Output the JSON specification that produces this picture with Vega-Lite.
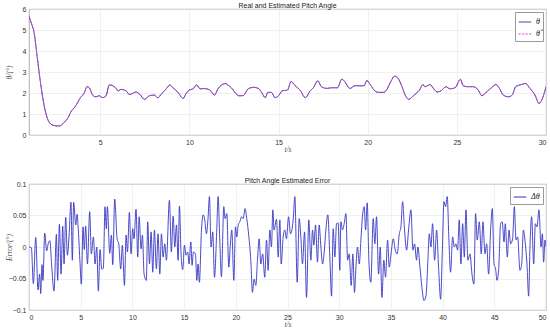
{
  "$schema": "https://vega.github.io/schema/vega-lite/v6.json",
  "background": "white",
  "padding": {"left": 4, "top": 1, "right": 1, "bottom": 0},
  "spacing": 23,
  "config": {
    "view": {"stroke": "#9a9a9a", "strokeWidth": 0.8},
    "font": "Liberation Sans",
    "axis": {
      "labelFontSize": 7, "labelColor": "#333", "labelFont": "Liberation Sans",
      "grid": true, "gridColor": "#e6e6e6", "gridWidth": 0.6,
      "domain": false, "ticks": false, "labelPadding": 3,
      "titleFont": "Liberation Serif", "titleFontStyle": "italic", "titleFontWeight": "normal",
      "titleFontSize": 7.5, "titleColor": "#555"
    },
    "axisY": {"titleX": -20, "titleBaseline": "middle", "titleAngle": -90, "labelPadding": 3},
    "axisX": {"titleY": 14, "titleBaseline": "middle"},
    "title": {"fontSize": 7, "fontWeight": "normal", "font": "Liberation Sans", "color": "#222", "offset": -4},
    "legend": {
      "orient": "top-right", "offset": 3, "strokeColor": "#9a9a9a", "fillColor": "white",
      "padding": 3, "labelFont": "Liberation Serif", "labelFontStyle": "italic", "labelFontSize": 8,
      "labelColor": "#222",
      "symbolType": "stroke", "symbolSize": 160, "symbolStrokeWidth": 1, "rowPadding": 1, "title": null
    }
  },
  "resolve": {"scale": {"color": "independent", "strokeDash": "independent"}, "legend": {"color": "independent", "strokeDash": "independent"}},
  "vconcat": [
    {
      "title": "Real and Estimated Pitch Angle",
      "width": 517, "height": 126,
      "data": {"values": [
        {"t":1,"a":5.65,"b":5.65},{"t":1.14,"a":5.3,"b":5.3},{"t":1.28,"a":4.9,"b":4.9},{"t":1.47,"a":3.65,"b":3.65},{"t":1.66,"a":2.4,"b":2.4},{"t":1.85,"a":1.4,"b":1.4},{"t":2.03,"a":0.8,"b":0.8},{"t":2.22,"a":0.52,"b":0.52},{"t":2.41,"a":0.45,"b":0.45},{"t":2.7,"a":0.43,"b":0.43},{"t":2.97,"a":0.6,"b":0.6},{"t":3.16,"a":0.78,"b":0.78},{"t":3.35,"a":1.1,"b":1.1},{"t":3.63,"a":1.4,"b":1.4},{"t":3.9,"a":1.8,"b":1.8},{"t":4.1,"a":2.0,"b":2.0},{"t":4.25,"a":2.3,"b":2.3},{"t":4.38,"a":2.25,"b":2.25},{"t":4.57,"a":1.9,"b":1.9},{"t":4.75,"a":1.82,"b":1.82},{"t":4.94,"a":1.87,"b":1.87},{"t":5.13,"a":1.78,"b":1.78},{"t":5.32,"a":1.87,"b":1.87},{"t":5.5,"a":2.38,"b":2.38},{"t":5.7,"a":2.35,"b":2.35},{"t":5.9,"a":2.2,"b":2.2},{"t":6.0,"a":2.1,"b":2.1},{"t":6.16,"a":2.17,"b":2.17},{"t":6.45,"a":2.1,"b":2.1},{"t":6.63,"a":1.93,"b":1.93},{"t":6.82,"a":1.98,"b":1.98},{"t":7.0,"a":2.05,"b":2.05},{"t":7.2,"a":1.95,"b":1.95},{"t":7.48,"a":1.7,"b":1.7},{"t":7.76,"a":1.87,"b":1.87},{"t":8.04,"a":1.9,"b":1.9},{"t":8.23,"a":1.77,"b":1.77},{"t":8.42,"a":1.95,"b":1.95},{"t":8.7,"a":2.2,"b":2.2},{"t":8.9,"a":2.38,"b":2.38},{"t":9.07,"a":2.25,"b":2.25},{"t":9.36,"a":2.03,"b":2.03},{"t":9.64,"a":1.74,"b":1.74},{"t":9.83,"a":2.0,"b":2.0},{"t":10.0,"a":2.14,"b":2.14},{"t":10.2,"a":2.2,"b":2.2},{"t":10.4,"a":2.38,"b":2.38},{"t":10.6,"a":2.2,"b":2.2},{"t":10.8,"a":2.21,"b":2.21},{"t":10.95,"a":2.2,"b":2.2},{"t":11.2,"a":2.1,"b":2.1},{"t":11.4,"a":1.9,"b":1.9},{"t":11.6,"a":2.2,"b":2.2},{"t":11.8,"a":2.38,"b":2.38},{"t":12.0,"a":2.45,"b":2.45},{"t":12.2,"a":2.35,"b":2.35},{"t":12.4,"a":2.2,"b":2.2},{"t":12.6,"a":1.98,"b":1.98},{"t":12.75,"a":1.87,"b":1.87},{"t":13.0,"a":1.87,"b":1.87},{"t":13.3,"a":2.2,"b":2.2},{"t":13.6,"a":2.27,"b":2.27},{"t":13.9,"a":2.2,"b":2.2},{"t":14.05,"a":2.03,"b":2.03},{"t":14.25,"a":1.78,"b":1.78},{"t":14.4,"a":2.03,"b":2.03},{"t":14.6,"a":2.03,"b":2.03},{"t":14.8,"a":1.78,"b":1.78},{"t":15.0,"a":1.87,"b":1.87},{"t":15.2,"a":2.1,"b":2.1},{"t":15.5,"a":2.14,"b":2.14},{"t":15.7,"a":2.55,"b":2.55},{"t":15.93,"a":2.35,"b":2.35},{"t":16.2,"a":2.14,"b":2.14},{"t":16.5,"a":1.78,"b":1.78},{"t":16.77,"a":2.1,"b":2.1},{"t":16.95,"a":2.25,"b":2.25},{"t":17.2,"a":2.58,"b":2.58},{"t":17.4,"a":2.3,"b":2.3},{"t":17.7,"a":2.22,"b":2.22},{"t":18.0,"a":2.25,"b":2.25},{"t":18.3,"a":2.25,"b":2.25},{"t":18.55,"a":2.66,"b":2.66},{"t":18.7,"a":2.55,"b":2.55},{"t":19.0,"a":2.22,"b":2.22},{"t":19.3,"a":2.35,"b":2.35},{"t":19.6,"a":2.34,"b":2.34},{"t":19.8,"a":2.35,"b":2.35},{"t":19.95,"a":2.6,"b":2.6},{"t":20.1,"a":2.45,"b":2.45},{"t":20.4,"a":2.1,"b":2.1},{"t":20.6,"a":2.03,"b":2.03},{"t":20.9,"a":2.03,"b":2.03},{"t":21.05,"a":2.14,"b":2.14},{"t":21.3,"a":2.55,"b":2.55},{"t":21.5,"a":2.8,"b":2.8},{"t":21.7,"a":2.7,"b":2.7},{"t":21.9,"a":2.35,"b":2.35},{"t":22.1,"a":1.9,"b":1.9},{"t":22.3,"a":1.7,"b":1.7},{"t":22.6,"a":1.9,"b":1.9},{"t":22.9,"a":2.14,"b":2.14},{"t":23.1,"a":2.4,"b":2.4},{"t":23.2,"a":2.3,"b":2.3},{"t":23.5,"a":2.4,"b":2.4},{"t":23.7,"a":2.2,"b":2.2},{"t":23.9,"a":2.05,"b":2.05},{"t":24.1,"a":2.1,"b":2.1},{"t":24.4,"a":2.3,"b":2.3},{"t":24.6,"a":2.2,"b":2.2},{"t":24.9,"a":2.25,"b":2.25},{"t":25.2,"a":2.65,"b":2.65},{"t":25.35,"a":2.35,"b":2.35},{"t":25.6,"a":2.3,"b":2.3},{"t":25.9,"a":2.3,"b":2.3},{"t":26.2,"a":2.14,"b":2.14},{"t":26.4,"a":1.87,"b":1.87},{"t":26.6,"a":2.0,"b":2.0},{"t":26.9,"a":2.22,"b":2.22},{"t":27.2,"a":2.4,"b":2.4},{"t":27.4,"a":2.2,"b":2.2},{"t":27.6,"a":1.9,"b":1.9},{"t":27.9,"a":1.82,"b":1.82},{"t":28.1,"a":1.9,"b":1.9},{"t":28.3,"a":2.3,"b":2.3},{"t":28.6,"a":2.4,"b":2.4},{"t":28.85,"a":2.45,"b":2.45},{"t":29.1,"a":2.22,"b":2.22},{"t":29.4,"a":1.87,"b":1.87},{"t":29.6,"a":1.5,"b":1.5},{"t":29.8,"a":1.74,"b":1.74},{"t":30.0,"a":2.3,"b":2.3}
      ]},
      "transform": [{"fold": ["a", "b"], "as": ["series", "value"]}],
      "mark": {"type": "line", "interpolate": "monotone", "strokeWidth": 1, "clip": true},
      "encoding": {
        "x": {"field": "t", "type": "quantitative", "title": "t/s",
              "scale": {"domain": [1, 30], "nice": false, "zero": false},
              "axis": {"values": [5, 10, 15, 20, 25, 30]}},
        "y": {"field": "value", "type": "quantitative", "title": "θ/(°)",
              "scale": {"domain": [0, 6], "nice": false},
              "axis": {"values": [0, 1, 2, 3, 4, 5, 6]}},
        "color": {"field": "series", "type": "nominal",
                  "scale": {"domain": ["a", "b"], "range": ["#34348f", "#d040d0"]},
                  "legend": {"labelExpr": "datum.label == 'a' ? 'θ' : 'θ̂'"}},
        "strokeDash": {"field": "series", "type": "nominal",
                       "scale": {"domain": ["a", "b"], "range": [[1, 0], [2, 1.5]]},
                       "legend": {"labelExpr": "datum.label == 'a' ? 'θ' : 'θ̂'"}},
        "order": {"field": "series"}
      }
    },
    {
      "title": "Pitch Angle Estimated Error",
      "width": 517, "height": 126,
      "data": {"values": [
        {"t":0,"e":0},{"t":0.23,"e":-0.001},{"t":0.42,"e":-0.058},{"t":0.65,"e":0.015},{"t":0.87,"e":-0.068},{"t":1.03,"e":-0.043},{"t":1.13,"e":-0.074},{"t":1.26,"e":-0.028},{"t":1.35,"e":-0.053},{"t":1.52,"e":0.022},{"t":1.71,"e":-0.006},{"t":1.87,"e":0.006},{"t":2.03,"e":0.01},{"t":2.16,"e":-0.021},{"t":2.42,"e":-0.07},{"t":2.65,"e":0.02},{"t":2.77,"e":-0.053},{"t":2.94,"e":0.036},{"t":3.1,"e":-0.043},{"t":3.26,"e":0.033},{"t":3.39,"e":-0.027},{"t":3.55,"e":0.047},{"t":3.71,"e":-0.013},{"t":3.87,"e":0.016},{"t":4.06,"e":0.071},{"t":4.19,"e":-0.021},{"t":4.32,"e":0.071},{"t":4.52,"e":0.035},{"t":4.65,"e":0.052},{"t":4.77,"e":0.027},{"t":4.94,"e":-0.027},{"t":5.06,"e":-0.059},{"t":5.23,"e":0.032},{"t":5.35,"e":-0.004},{"t":5.48,"e":0.033},{"t":5.65,"e":-0.027},{"t":5.87,"e":0.056},{"t":6.03,"e":-0.011},{"t":6.23,"e":0.016},{"t":6.39,"e":-0.027},{"t":6.55,"e":0.0},{"t":6.71,"e":-0.07},{"t":6.87,"e":-0.004},{"t":7.03,"e":-0.035},{"t":7.19,"e":-0.034},{"t":7.35,"e":0.064},{"t":7.48,"e":0.029},{"t":7.58,"e":0.064},{"t":7.81,"e":-0.01},{"t":7.97,"e":0.019},{"t":8.1,"e":-0.028},{"t":8.29,"e":0.076},{"t":8.52,"e":0.013},{"t":8.68,"e":0.005},{"t":8.87,"e":-0.035},{"t":9.03,"e":0.003},{"t":9.23,"e":-0.061},{"t":9.39,"e":0.019},{"t":9.52,"e":-0.008},{"t":9.71,"e":0.055},{"t":9.87,"e":-0.011},{"t":10.03,"e":0.029},{"t":10.16,"e":0.013},{"t":10.35,"e":0.06},{"t":10.52,"e":-0.016},{"t":10.65,"e":0.048},{"t":10.84,"e":-0.003},{"t":10.97,"e":0.019},{"t":11.13,"e":-0.043},{"t":11.35,"e":-0.053},{"t":11.48,"e":0.04},{"t":11.65,"e":-0.027},{"t":11.81,"e":0.024},{"t":11.97,"e":-0.04},{"t":12.13,"e":0.027},{"t":12.32,"e":-0.035},{"t":12.48,"e":0.021},{"t":12.65,"e":-0.043},{"t":12.81,"e":0.021},{"t":12.97,"e":-0.016},{"t":13.13,"e":0.005},{"t":13.29,"e":-0.021},{"t":13.58,"e":0.074},{"t":13.77,"e":-0.008},{"t":13.94,"e":0.049},{"t":14.1,"e":0.0},{"t":14.26,"e":0.035},{"t":14.42,"e":-0.021},{"t":14.55,"e":0.065},{"t":14.71,"e":-0.013},{"t":14.87,"e":-0.036},{"t":15.03,"e":0.003},{"t":15.19,"e":-0.013},{"t":15.35,"e":-0.008},{"t":15.48,"e":-0.027},{"t":15.65,"e":0.008},{"t":15.77,"e":-0.029},{"t":15.9,"e":-0.008},{"t":16.1,"e":-0.011},{"t":16.23,"e":-0.053},{"t":16.35,"e":-0.027},{"t":16.48,"e":-0.056},{"t":16.68,"e":0.027},{"t":16.84,"e":0.051},{"t":17.0,"e":0.043},{"t":17.16,"e":0.021},{"t":17.32,"e":0.047},{"t":17.45,"e":0.08},{"t":17.61,"e":0.0},{"t":17.77,"e":0.024},{"t":17.94,"e":-0.048},{"t":18.16,"e":0.028},{"t":18.29,"e":0.08},{"t":18.45,"e":0.011},{"t":18.61,"e":-0.047},{"t":18.84,"e":0.064},{"t":18.97,"e":0.045},{"t":19.13,"e":0.053},{"t":19.32,"e":-0.032},{"t":19.48,"e":0.005},{"t":19.61,"e":0.027},{"t":19.81,"e":-0.053},{"t":19.97,"e":0.032},{"t":20.1,"e":0.016},{"t":20.23,"e":0.035},{"t":20.39,"e":0.04},{"t":20.55,"e":0.048},{"t":20.71,"e":0.045},{"t":20.9,"e":0.061},{"t":21.06,"e":0.045},{"t":21.26,"e":0.017},{"t":21.45,"e":-0.021},{"t":21.61,"e":-0.072},{"t":21.77,"e":-0.051},{"t":21.94,"e":-0.061},{"t":22.1,"e":-0.019},{"t":22.26,"e":0.013},{"t":22.42,"e":-0.027},{"t":22.6,"e":-0.011},{"t":22.8,"e":-0.048},{"t":22.97,"e":0.011},{"t":23.13,"e":-0.037},{"t":23.29,"e":0.027},{"t":23.45,"e":0.0},{"t":23.58,"e":0.059},{"t":23.7,"e":0.027},{"t":23.94,"e":0.044},{"t":24.1,"e":-0.016},{"t":24.26,"e":0.043},{"t":24.39,"e":-0.027},{"t":24.58,"e":0.016},{"t":24.74,"e":0.027},{"t":24.9,"e":0.013},{"t":25.1,"e":0.048},{"t":25.29,"e":0.021},{"t":25.55,"e":0.043},{"t":25.71,"e":0.08},{"t":25.94,"e":-0.056},{"t":26.13,"e":0.045},{"t":26.29,"e":0.016},{"t":26.45,"e":-0.027},{"t":26.65,"e":0.024},{"t":26.84,"e":-0.08},{"t":27.06,"e":0.043},{"t":27.26,"e":-0.021},{"t":27.42,"e":0.027},{"t":27.55,"e":0.003},{"t":27.71,"e":0.035},{"t":27.9,"e":-0.024},{"t":28.06,"e":0.035},{"t":28.23,"e":0.0},{"t":28.39,"e":-0.027},{"t":28.55,"e":-0.008},{"t":28.71,"e":0.027},{"t":28.9,"e":0.051},{"t":29.1,"e":-0.019},{"t":29.26,"e":-0.078},{"t":29.42,"e":0.029},{"t":29.58,"e":-0.016},{"t":29.74,"e":0.037},{"t":29.9,"e":0.038},{"t":30.06,"e":-0.037},{"t":30.16,"e":0.04},{"t":30.32,"e":0.027},{"t":30.48,"e":0.037},{"t":30.65,"e":0.053},{"t":30.81,"e":-0.021},{"t":30.97,"e":-0.011},{"t":31.16,"e":-0.061},{"t":31.32,"e":-0.011},{"t":31.48,"e":-0.072},{"t":31.61,"e":-0.035},{"t":31.77,"e":0.0},{"t":31.94,"e":-0.027},{"t":32.1,"e":0.011},{"t":32.26,"e":0.051},{"t":32.42,"e":0.064},{"t":32.55,"e":0.027},{"t":32.71,"e":0.07},{"t":32.87,"e":-0.021},{"t":33.06,"e":-0.056},{"t":33.29,"e":0.045},{"t":33.45,"e":0.005},{"t":33.61,"e":0.048},{"t":33.81,"e":-0.043},{"t":33.97,"e":0.0},{"t":34.13,"e":-0.08},{"t":34.32,"e":-0.021},{"t":34.48,"e":-0.048},{"t":34.68,"e":0.011},{"t":34.84,"e":-0.032},{"t":35.0,"e":-0.013},{"t":35.23,"e":0.013},{"t":35.42,"e":-0.005},{"t":35.61,"e":-0.011},{"t":35.81,"e":0.021},{"t":35.97,"e":0.032},{"t":36.13,"e":0.072},{"t":36.32,"e":0.027},{"t":36.52,"e":-0.005},{"t":36.71,"e":0.027},{"t":36.94,"e":0.059},{"t":37.13,"e":-0.005},{"t":37.29,"e":0.005},{"t":37.48,"e":-0.021},{"t":37.61,"e":0.0},{"t":37.81,"e":-0.032},{"t":38.0,"e":-0.064},{"t":38.19,"e":-0.085},{"t":38.39,"e":-0.078},{"t":38.58,"e":-0.021},{"t":38.71,"e":0.021},{"t":38.87,"e":0.0},{"t":39.03,"e":0.037},{"t":39.23,"e":-0.021},{"t":39.42,"e":0.027},{"t":39.61,"e":-0.032},{"t":39.81,"e":-0.083},{"t":39.97,"e":-0.008},{"t":40.13,"e":0.072},{"t":40.29,"e":0.064},{"t":40.45,"e":0.08},{"t":40.61,"e":0.011},{"t":40.77,"e":-0.04},{"t":40.97,"e":0.016},{"t":41.13,"e":0.0},{"t":41.29,"e":0.005},{"t":41.45,"e":-0.005},{"t":41.61,"e":0.043},{"t":41.77,"e":-0.027},{"t":41.94,"e":0.037},{"t":42.1,"e":-0.016},{"t":42.26,"e":0.059},{"t":42.45,"e":-0.021},{"t":42.65,"e":-0.011},{"t":42.84,"e":-0.043},{"t":43.03,"e":-0.059},{"t":43.19,"e":0.053},{"t":43.35,"e":0.011},{"t":43.55,"e":0.04},{"t":43.74,"e":-0.011},{"t":43.9,"e":0.04},{"t":44.1,"e":-0.011},{"t":44.26,"e":0.005},{"t":44.45,"e":-0.043},{"t":44.65,"e":0.029},{"t":44.81,"e":0.061},{"t":44.97,"e":-0.027},{"t":45.13,"e":-0.035},{"t":45.26,"e":-0.053},{"t":45.42,"e":-0.037},{"t":45.61,"e":0.037},{"t":45.77,"e":0.04},{"t":45.94,"e":0.008},{"t":46.06,"e":0.037},{"t":46.26,"e":-0.016},{"t":46.42,"e":0.027},{"t":46.58,"e":0.005},{"t":46.77,"e":0.013},{"t":46.94,"e":0.064},{"t":47.1,"e":0.011},{"t":47.26,"e":0.016},{"t":47.48,"e":-0.037},{"t":47.65,"e":-0.027},{"t":47.81,"e":0.027},{"t":48.0,"e":0.005},{"t":48.16,"e":-0.027},{"t":48.32,"e":-0.078},{"t":48.45,"e":0.0},{"t":48.61,"e":0.048},{"t":48.81,"e":-0.027},{"t":48.97,"e":0.037},{"t":49.13,"e":0.032},{"t":49.32,"e":0.059},{"t":49.52,"e":0.0},{"t":49.65,"e":0.021},{"t":49.77,"e":-0.024},{"t":49.9,"e":0.011},{"t":50.0,"e":0.0}
      ]},
      "mark": {"type": "line", "interpolate": "monotone", "strokeWidth": 0.9, "clip": true},
      "encoding": {
        "x": {"field": "t", "type": "quantitative", "title": "t/s",
              "scale": {"domain": [0, 50], "nice": false},
              "axis": {"values": [0, 5, 10, 15, 20, 25, 30, 35, 40, 45, 50]}},
        "y": {"field": "e", "type": "quantitative", "title": "Error/(°)",
              "scale": {"domain": [-0.1, 0.1], "nice": false},
              "axis": {"values": [-0.1, -0.05, 0, 0.05, 0.1], "format": "~g"}},
        "color": {"datum": "Δθ", "type": "nominal",
                  "scale": {"range": ["#3434c4"]}}
      }
    }
  ]
}
